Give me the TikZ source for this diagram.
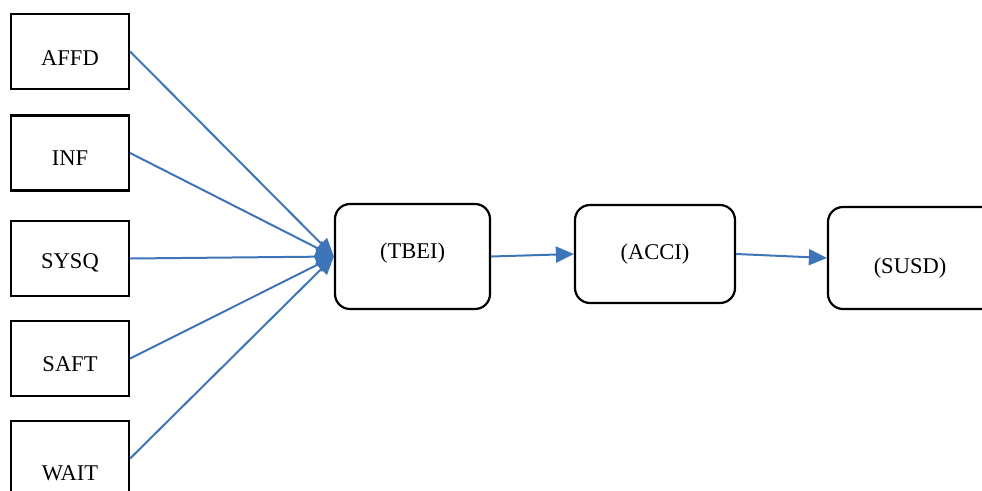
\documentclass[tikz,border=0pt]{standalone}
\usepackage{fontspec}
\setmainfont{Liberation Serif}
\usetikzlibrary{arrows.meta}
\definecolor{linkblue}{RGB}{61,117,184}
\tikzset{
  srcbox/.style={draw=black, line width=2.2pt, minimum width=118pt, minimum height=75pt, inner sep=0pt},
  stagebox/.style={draw=black, line width=2.2pt, rounded corners=15pt, inner sep=0pt},
  lbl/.style={font=\fontsize{22.5}{26}\selectfont, inner sep=0pt},
  link/.style={draw=linkblue, line width=2pt, -{Triangle[length=18pt, width=16pt]}}
}
\begin{document}
\begin{tikzpicture}[x=1pt, y=-1pt]
  \useasboundingbox (0,0) rectangle (982,490);
  \clip (0,0) rectangle (982,490);

  % input factors on the left
  \node[srcbox] (affd) at (70,51.5) {};
  \node[srcbox] (inf)  at (70,153) {};
  \node[srcbox] (sysq) at (70,258.5) {};
  \node[srcbox] (saft) at (70,358.5) {};
  \node[srcbox] (wait) at (70,458.5) {};
  \node[lbl] (taffd) at (70,58) {AFFD};
  \node[lbl] (tinf)  at (70,158) {INF};
  \node[lbl] (tsysq) at (70,263) {SYSQ};
  \node[lbl] (tsaft) at (70,364) {SAFT};
  \node[lbl] (twait) at (70,473) {WAIT};

  % chain of constructs
  \node[stagebox, minimum width=155pt, minimum height=105pt] (tbei) at (412.5,256.5) {};
  \node[stagebox, minimum width=160pt, minimum height=98pt] (acci) at (655,254) {};
  \node[stagebox, minimum width=200pt, minimum height=102pt] (susd) at (928,258) {};
  \node[lbl] (ttbei) at (412.5,253) {(TBEI)};
  \node[lbl] (tacci) at (655,254) {(ACCI)};
  \node[lbl] (tsusd) at (910,268) {(SUSD)};

  % links
  \foreach \s in {affd,inf,sysq,saft,wait}
    \draw[link] (\s.east) -- (tbei.west);
  \draw[link] (tbei.east) -- (acci.west);
  \draw[link] (acci.east) -- (susd.west);
\end{tikzpicture}
\end{document}
